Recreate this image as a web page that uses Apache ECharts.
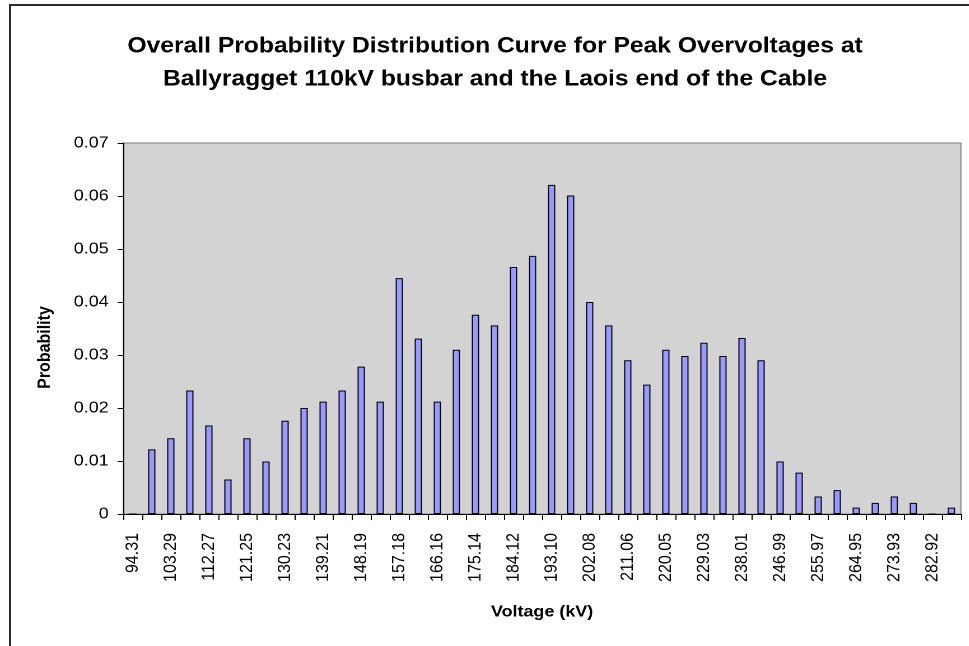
<!DOCTYPE html>
<html>
<head>
<meta charset="utf-8">
<script src="https://cdn.jsdelivr.net/npm/echarts@6/dist/echarts.min.js"></script>
<style>
  html, body { margin: 0; padding: 0; background: #ffffff; overflow: hidden; }
  /* the chart is laid out in a narrower box and widened horizontally */
  #chart { width: 865px; height: 646px; transform: scaleX(1.12); transform-origin: 0 0; }
</style>
</head>
<body>
<div id="chart"></div>
<script>
// Voltage bins (kV)
const voltages = [
  '94.31', '98.80', '103.29', '107.78', '112.27', '116.76', '121.25', '125.74',
  '130.23', '134.72', '139.21', '143.70', '148.19', '152.69', '157.18', '161.67',
  '166.16', '170.65', '175.14', '179.63', '184.12', '188.61', '193.10', '197.59',
  '202.08', '206.57', '211.06', '215.56', '220.05', '224.54', '229.03', '233.52',
  '238.01', '242.50', '246.99', '251.48', '255.97', '260.46', '264.95', '269.44',
  '273.93', '278.42', '282.92', '287.41'
];

// Probability of each bin
const probability = [
  0, 0.0122, 0.0143, 0.0233, 0.0167, 0.0065, 0.0143, 0.0099,
  0.0176, 0.0200, 0.0212, 0.0233, 0.0278, 0.0212, 0.0445, 0.0331,
  0.0212, 0.0310, 0.0376, 0.0356, 0.0466, 0.0487, 0.0621, 0.0601,
  0.0400, 0.0356, 0.0290, 0.0244, 0.0310, 0.0298, 0.0323, 0.0298,
  0.0332, 0.0290, 0.0099, 0.0078, 0.0033, 0.0045, 0.0012, 0.0021,
  0.0033, 0.0021, 0, 0.0012
];

const titleLines = [
  'Overall Probability Distribution Curve for Peak Overvoltages at',
  'Ballyragget 110kV busbar and the Laois end of the Cable'
];
const xName = 'Voltage (kV)';
const yName = 'Probability';

const font = 'Arial, "Liberation Sans", sans-serif';
const chart = echarts.init(document.getElementById('chart'), null, {
  renderer: 'canvas',
  devicePixelRatio: 2
});

chart.setOption({
  animation: false,
  backgroundColor: '#ffffff',
  title: {
    text: titleLines.join('\n'),
    left: 437,
    textAlign: 'center',
    top: 25,
    textStyle: {
      fontFamily: font,
      fontSize: 22,
      fontWeight: 'bold',
      color: '#000000',
      lineHeight: 33
    }
  },
  graphic: [{
    type: 'rect',
    shape: { x: 9, y: 5, width: 1000, height: 700 },
    style: { fill: 'none', stroke: '#2a2a2a', lineWidth: 2 },
    silent: true,
    z: 100
  }],
  grid: {
    left: 110,
    top: 143,
    right: 7,
    bottom: 132,
    show: true,
    backgroundColor: '#d3d3d3',
    borderColor: '#808080',
    borderWidth: 1
  },
  xAxis: {
    type: 'category',
    data: voltages,
    boundaryGap: true,
    name: xName,
    nameLocation: 'middle',
    nameGap: 90,
    nameTextStyle: { fontFamily: font, fontSize: 16, fontWeight: 'bold', color: '#000' },
    axisLine: { show: true, lineStyle: { color: '#000', width: 1 } },
    axisTick: { show: true, interval: 0, length: 6, lineStyle: { color: '#000' } },
    axisLabel: {
      interval: 1,
      rotate: 90,
      margin: 19,
      fontFamily: font,
      fontSize: 16,
      color: '#000'
    },
    splitLine: { show: false }
  },
  yAxis: {
    type: 'value',
    min: 0,
    max: 0.07,
    interval: 0.01,
    name: yName,
    nameLocation: 'middle',
    nameGap: 62,
    nameRotate: 90,
    nameTextStyle: {
      fontFamily: font, fontSize: 16, fontWeight: 'bold', color: '#000',
      padding: [0, 38, 0, 0]
    },
    axisLine: { show: true, lineStyle: { color: '#000', width: 1 } },
    axisTick: { show: true, length: 5, lineStyle: { color: '#000' } },
    axisLabel: {
      margin: 13,
      fontFamily: font,
      fontSize: 16,
      color: '#000',
      formatter: v => (v === 0 ? '0' : v.toFixed(2))
    },
    splitLine: { show: false }
  },
  series: [{
    type: 'bar',
    data: probability,
    barWidth: 6.5,
    itemStyle: {
      color: '#9999ff',
      borderColor: '#000000',
      borderWidth: 1
    }
  }]
});
</script>
</body>
</html>
